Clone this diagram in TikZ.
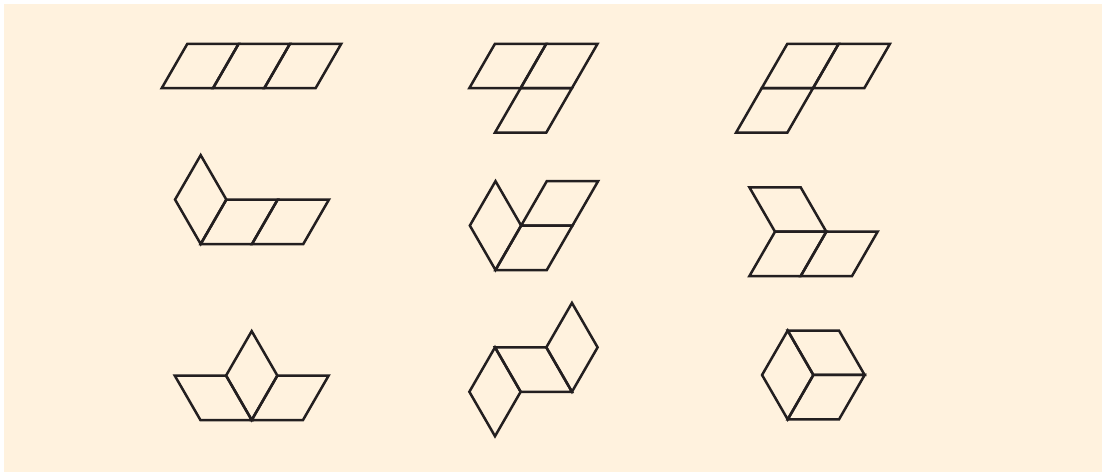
\documentclass[tikz,border=0pt]{standalone}
\definecolor{bgcream}{RGB}{255,242,222}
\definecolor{inkline}{RGB}{35,31,32}
\begin{document}
\begin{tikzpicture}[x=1pt,y=-1pt,
  edge/.style={draw=inkline,line width=2.5pt,line join=miter},
  rhH/.pic={\draw[edge] (0,0) -- ++(51.3,0) -- ++(25.65,-44.43) -- ++(-51.3,0) -- cycle;},
  rhG/.pic={\draw[edge] (0,0) -- ++(51.3,0) -- ++(-25.65,-44.43) -- ++(-51.3,0) -- cycle;},
  rhV/.pic={\draw[edge] (0,0) -- ++(25.65,-44.43) -- ++(-25.65,-44.43) -- ++(-25.65,44.43) -- cycle;}]
\useasboundingbox (0,0) rectangle (1102,472);
\fill[white] (0,0) rectangle (1102,472);
\fill[bgcream] (4,4) rectangle (1102,472);
% row 1
\pic at (161.7,88.2) {rhH};
\pic at (213.0,88.2) {rhH};
\pic at (264.3,88.2) {rhH};
\pic at (469.3,88.2) {rhH};
\pic at (520.6,88.2) {rhH};
\pic at (494.95,132.63) {rhH};
\pic at (761.7,88.2) {rhH};
\pic at (813.0,88.2) {rhH};
\pic at (736.05,132.63) {rhH};
% row 2
\pic at (200.7,244) {rhV};
\pic at (200.7,244) {rhH};
\pic at (252.0,244) {rhH};
\pic at (495.5,270) {rhV};
\pic at (495.5,270) {rhH};
\pic at (521.15,225.57) {rhH};
\pic at (775,231.7) {rhG};
\pic at (749.35,276.13) {rhH};
\pic at (800.65,276.13) {rhH};
% row 3
\pic at (251.7,420) {rhV};
\pic at (251.7,420) {rhH};
\pic at (200.4,420) {rhG};
\pic at (495,436.2) {rhV};
\pic at (520.65,391.77) {rhG};
\pic at (571.95,391.77) {rhV};
\pic at (787.7,419.4) {rhV};
\pic at (813.35,374.97) {rhG};
\pic at (787.7,419.4) {rhH};
\end{tikzpicture}
\end{document}
